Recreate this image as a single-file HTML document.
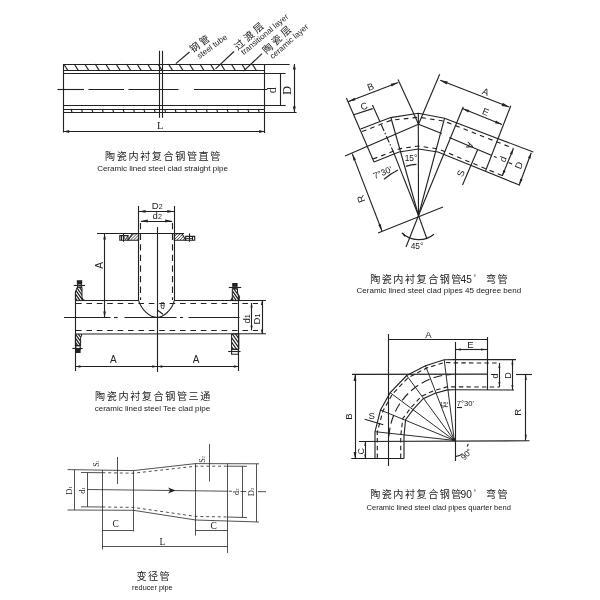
<!DOCTYPE html>
<html><head><meta charset="utf-8"><title>Ceramic lined steel clad pipes</title>
<style>
html,body{margin:0;padding:0;background:#fff;}
body{width:600px;height:600px;overflow:hidden;font-family:"Liberation Sans",sans-serif;}
svg{display:block;filter:blur(0.3px);}
svg text{fill:#222;stroke:none;}
svg text.sn{font-family:"Liberation Sans","Noto Sans CJK SC",sans-serif;}
svg text.sf{font-family:"Liberation Serif","Noto Serif CJK SC",serif;}
</style></head><body>
<svg width="600" height="600" viewBox="0 0 600 600" fill="none" stroke="#222" stroke-width="1.12">
<rect width="600" height="600" fill="#fff" stroke="none"/>
<path d="M63.6 64.5L289.6 64.5"/>
<path d="M63.6 70.5L264.6 70.5"/>
<path d="M63.6 73.5L285.6 73.5"/>
<path d="M63.6 105.5L285.6 105.5"/>
<path d="M63.6 109.5L264.6 109.5"/>
<path d="M63.6 112.5L296.6 112.5"/>
<path d="M63.5 64L63.5 132.5"/>
<path d="M264.5 64L264.5 133"/>
<path d="M63.75 64L67.95 70.6"/>
<path d="M74.22 64L78.42 70.6"/>
<path d="M84.69 64L88.89 70.6"/>
<path d="M95.16 64L99.36 70.6"/>
<path d="M105.63 64L109.83 70.6"/>
<path d="M116.1 64L120.3 70.6"/>
<path d="M126.57 64L130.77 70.6"/>
<path d="M137.04 64L141.24 70.6"/>
<path d="M147.51 64L151.71 70.6"/>
<path d="M157.98 64L162.18 70.6"/>
<path d="M168.45 64L172.65 70.6"/>
<path d="M178.92 64L183.12 70.6"/>
<path d="M189.39 64L193.59 70.6"/>
<path d="M199.86 64L204.06 70.6"/>
<path d="M210.33 64L214.53 70.6"/>
<path d="M220.8 64L225 70.6"/>
<path d="M231.27 64L235.47 70.6"/>
<path d="M241.74 64L245.94 70.6"/>
<path d="M252.21 64L256.41 70.6"/>
<path d="M71 109L72.2 112.9"/>
<path d="M81.4 109L82.6 112.9"/>
<path d="M91.8 109L93 112.9"/>
<path d="M102.2 109L103.4 112.9"/>
<path d="M112.6 109L113.8 112.9"/>
<path d="M123 109L124.2 112.9"/>
<path d="M133.4 109L134.6 112.9"/>
<path d="M143.8 109L145 112.9"/>
<path d="M154.2 109L155.4 112.9"/>
<path d="M164.6 109L165.8 112.9"/>
<path d="M175 109L176.2 112.9"/>
<path d="M185.4 109L186.6 112.9"/>
<path d="M195.8 109L197 112.9"/>
<path d="M206.2 109L207.4 112.9"/>
<path d="M216.6 109L217.8 112.9"/>
<path d="M227 109L228.2 112.9"/>
<path d="M237.4 109L238.6 112.9"/>
<path d="M247.8 109L249 112.9"/>
<path d="M258.2 109L259.4 112.9"/>
<path d="M57.5 89.5L84 89.5"/>
<path d="M88.5 89.5L124 89.5"/>
<path d="M128.5 89.5L178.5 89.5"/>
<path d="M194 89.5L267 89.5"/>
<path d="M159.5 50.8L159.5 117.8"/>
<path d="M162.5 50.8L162.5 117.8"/>
<path d="M63.6 131.5L264.6 131.5"/>
<path d="M264.6 131.4L259.1 132.9L259.1 129.9Z" fill="#222" stroke="none"/>
<path d="M63.6 131.4L69.1 129.9L69.1 132.9Z" fill="#222" stroke="none"/>
<text class="sf" x="160.3" y="129" font-size="10.5" text-anchor="middle">L</text>
<path d="M280.5 73L280.5 105.5"/>
<path d="M294.5 64L294.5 112.1"/>
<path d="M294.3 112.1L292.8 106.6L295.8 106.6Z" fill="#222" stroke="none"/>
<path d="M294.3 64L295.8 69.5L292.8 69.5Z" fill="#222" stroke="none"/>
<text class="sf" transform="translate(276.4 90.3) rotate(-90)" font-size="12" text-anchor="middle">d</text>
<text class="sf" transform="translate(290.6 90.3) rotate(-90)" font-size="12" text-anchor="middle">D</text>
<path d="M175.8 63.6L189.5 52"/>
<path d="M215.5 68.8L234 51.5"/>
<path d="M243.5 71.2L262 53.6"/>
<text class="sn" transform="translate(192.65 52.97) rotate(-35.26)" font-size="9.8" letter-spacing="2.32">钢管</text>
<text class="sn" transform="translate(199.4 58.9) rotate(-36)" font-size="8.1">steel tube</text>
<text class="sn" transform="translate(237.99 50.86) rotate(-41.67)" font-size="10" letter-spacing="2.78">过渡层</text>
<text class="sn" transform="translate(243.7 55.3) rotate(-39.8)" font-size="8.1">transitional layer</text>
<text class="sn" transform="translate(266.41 54.38) rotate(-42.74)" font-size="10" letter-spacing="2.53">陶瓷层</text>
<text class="sn" transform="translate(272.8 59.3) rotate(-41.3)" font-size="8.1">ceramic layer</text>
<text class="sn" x="105.1" y="159.9" font-size="10.1" letter-spacing="1.59">陶瓷内衬复合钢管直管</text>
<text class="sn" x="162.5" y="170.8" font-size="8" text-anchor="middle">Ceramic lined steel clad straight pipe</text>
<path d="M138.5 206L138.5 300.6"/>
<path d="M174.5 206L174.5 300.6"/>
<path d="M140.5 223L140.5 300" stroke-dasharray="6.3 4.3"/>
<path d="M172.5 223L172.5 300" stroke-dasharray="6.3 4.3"/>
<path d="M157.5 227L157.5 372"/>
<path d="M138.6 211.5L174.3 211.5"/>
<path d="M174.3 211.4L167.3 212.8L167.3 210Z" fill="#222" stroke="none"/>
<path d="M138.6 211.4L145.6 210L145.6 212.8Z" fill="#222" stroke="none"/>
<path d="M140.8 221.5L172.2 221.5"/>
<path d="M172.2 221L165.2 222.4L165.2 219.6Z" fill="#222" stroke="none"/>
<path d="M140.8 221L147.8 219.6L147.8 222.4Z" fill="#222" stroke="none"/>
<text class="sn" x="151.79" y="208.6" font-size="9.5">D<tspan font-size="7.1">2</tspan></text>
<text class="sn" x="152.58" y="219.2" font-size="9.5">d<tspan font-size="7.1">2</tspan></text>
<path d="M97 233.5L184 233.5"/>
<path d="M132.5 233.6L138.6 233.6L138.6 240.2L128 240.2Z"/>
<clipPath id="c88"><path d="M132.5 233.6L138.6 233.6L138.6 240.2L128 240.2Z"/></clipPath>
<path clip-path="url(#c88)" d="M121.4 240.2L128 233.6M124.4 240.2L131 233.6M127.4 240.2L134 233.6M130.4 240.2L137 233.6M133.4 240.2L140 233.6M136.4 240.2L143 233.6M139.4 240.2L146 233.6M142.4 240.2L149 233.6" stroke-width="0.8"/>
<path d="M174.3 233.6L182 233.6L185.7 240.2L174.3 240.2Z"/>
<clipPath id="c91"><path d="M174.3 233.6L182 233.6L185.7 240.2L174.3 240.2Z"/></clipPath>
<path clip-path="url(#c91)" d="M167.7 240.2L174.3 233.6M170.7 240.2L177.3 233.6M173.7 240.2L180.3 233.6M176.7 240.2L183.3 233.6M179.7 240.2L186.3 233.6M182.7 240.2L189.3 233.6M185.7 240.2L192.3 233.6M188.7 240.2L195.3 233.6M191.7 240.2L198.3 233.6" stroke-width="0.8"/>
<path d="M119.8 235.6L128 235.6L128 240.2L119.8 240.2Z"/>
<path d="M123.5 233.4L123.5 241.8"/>
<path d="M121.5 235.6L121.5 240.2"/>
<path d="M123.4 235.8L125.6 239.8L127.8 235.8" stroke-width="0.8"/>
<path d="M185.7 236.4L194.7 236.4L194.7 240.2L185.7 240.2Z"/>
<path d="M189.5 233.4L189.5 241.8"/>
<path d="M192.5 236.4L192.5 240.2"/>
<path d="M186 238.5L192.6 238.5" stroke-width="0.8"/>
<path d="M83 300.5L138.6 300.5"/>
<path d="M174.3 300.5L266 300.5"/>
<path d="M82.6 334L266 333.7"/>
<path d="M75.5 291.5L75.5 371"/>
<path d="M238.5 296L238.5 371"/>
<path d="M76 303.5L258 303.5" stroke-dasharray="5.6 4.8"/>
<path d="M76 330.5L258 330.5" stroke-dasharray="5.6 4.8"/>
<path d="M64 317.5L110.5 317.5"/>
<path d="M114 317.5L117.5 317.5"/>
<path d="M124.5 317.5L176.5 317.5"/>
<path d="M180 317.5L183 317.5"/>
<path d="M188.5 317.5L239.5 317.5"/>
<path d="M138.6 300.6C141.6 309.6 149.3 317.4 157.3 317.4C162.8 317.4 171.8 310.6 174.3 300.6"/>
<path d="M157.3 310L163 314.2"/>
<text class="sn" x="162.6" y="308.6" font-size="8.5" text-anchor="middle">θ</text>
<path d="M77.2 287.2L82 287.2L82 298L83.2 300.6L75.4 300.6L75.4 292Z" stroke-width="1"/>
<clipPath id="c117"><path d="M77.2 287.2L82 287.2L82 298L83.2 300.6L75.4 300.6L75.4 292Z"/></clipPath>
<path clip-path="url(#c117)" d="M62 287.2L71.38 300.6M64.9 287.2L74.28 300.6M67.8 287.2L77.18 300.6M70.7 287.2L80.08 300.6M73.6 287.2L82.98 300.6M76.5 287.2L85.88 300.6M79.4 287.2L88.78 300.6M82.3 287.2L91.68 300.6M85.2 287.2L94.58 300.6M88.1 287.2L97.48 300.6M91 287.2L100.38 300.6M93.9 287.2L103.28 300.6" stroke-width="1.25"/>
<path d="M82 297.6Q82.4 300.2 85.2 300.6"/>
<path d="M76.8 280.2H82.2V283.9H76.8Z" fill="#222" stroke="none"/>
<path d="M77.6 283.9L81.4 283.9L81.4 287.2L77.6 287.2Z"/>
<path d="M73.8 285.5L85 285.5"/>
<path d="M75.4 334L82.2 334L80.6 337.8L80.6 345.6L75.4 345.6Z" stroke-width="1"/>
<clipPath id="c124"><path d="M75.4 334L82.2 334L80.6 337.8L80.6 345.6L75.4 345.6Z"/></clipPath>
<path clip-path="url(#c124)" d="M63.8 334L71.92 345.6M66.7 334L74.82 345.6M69.6 334L77.72 345.6M72.5 334L80.62 345.6M75.4 334L83.52 345.6M78.3 334L86.42 345.6M81.2 334L89.32 345.6M84.1 334L92.22 345.6M87 334L95.12 345.6M89.9 334L98.02 345.6M92.8 334L100.92 345.6" stroke-width="1.25"/>
<path d="M75.8 345.6L80.2 345.6L80.2 349.4L75.8 349.4Z"/>
<path d="M72.4 348.5L82.6 348.5"/>
<path d="M75.7 349.4H80.6V353H75.7Z" fill="#222" stroke="none"/>
<path d="M232.3 288.8L237.5 288.8L237.5 293L239.3 296L239.3 300.6L231.2 300.6L232.3 298Z" stroke-width="1"/>
<clipPath id="c130"><path d="M232.3 288.8L237.5 288.8L237.5 293L239.3 296L239.3 300.6L231.2 300.6L232.3 298Z"/></clipPath>
<path clip-path="url(#c130)" d="M219.4 288.8L227.66 300.6M222.3 288.8L230.56 300.6M225.2 288.8L233.46 300.6M228.1 288.8L236.36 300.6M231 288.8L239.26 300.6M233.9 288.8L242.16 300.6M236.8 288.8L245.06 300.6M239.7 288.8L247.96 300.6M242.6 288.8L250.86 300.6M245.5 288.8L253.76 300.6M248.4 288.8L256.66 300.6" stroke-width="1.25"/>
<path d="M232.3 297.6Q232 300.2 229.6 300.6"/>
<path d="M232.2 283H237.6V286.3H232.2Z" fill="#222" stroke="none"/>
<path d="M233 286.3L236.8 286.3L236.8 288.8L233 288.8Z"/>
<path d="M228.8 287.5L241.2 287.5"/>
<path d="M231.6 334L238.8 334L238.8 349.3L231.6 349.3Z" stroke-width="1"/>
<clipPath id="c137"><path d="M231.6 334L238.8 334L238.8 349.3L231.6 349.3Z"/></clipPath>
<path clip-path="url(#c137)" d="M216.3 334L227.01 349.3M219.5 334L230.21 349.3M222.7 334L233.41 349.3M225.9 334L236.61 349.3M229.1 334L239.81 349.3M232.3 334L243.01 349.3M235.5 334L246.21 349.3M238.7 334L249.41 349.3M241.9 334L252.61 349.3M245.1 334L255.81 349.3M248.3 334L259.01 349.3M251.5 334L262.21 349.3" stroke-width="1.2"/>
<path d="M231.6 349.3L238.4 349.3L238.4 354.2L231.6 354.2Z"/>
<path d="M228.2 351.5L240.5 351.5"/>
<path d="M104.5 233.6L104.5 317.4"/>
<path d="M104.6 317.4L103.3 311.4L105.9 311.4Z" fill="#222" stroke="none"/>
<path d="M104.6 233.6L105.9 239.6L103.3 239.6Z" fill="#222" stroke="none"/>
<text class="sn" transform="translate(102.6 265.5) rotate(-90)" font-size="10" text-anchor="middle">A</text>
<path d="M75.4 366.5L157.3 366.5"/>
<path d="M157.3 366.5L152.3 367.7L152.3 365.3Z" fill="#222" stroke="none"/>
<path d="M75.4 366.5L80.4 365.3L80.4 367.7Z" fill="#222" stroke="none"/>
<path d="M157.3 366.5L238.8 366.5"/>
<path d="M238.8 366.5L233.8 367.7L233.8 365.3Z" fill="#222" stroke="none"/>
<path d="M157.3 366.5L162.3 365.3L162.3 367.7Z" fill="#222" stroke="none"/>
<text class="sn" x="113.4" y="362.6" font-size="10" text-anchor="middle">A</text>
<text class="sn" x="196.2" y="362.6" font-size="10" text-anchor="middle">A</text>
<path d="M251.5 303L251.5 330.3"/>
<path d="M251.6 330.3L250.5 325.8L252.7 325.8Z" fill="#222" stroke="none"/>
<path d="M251.6 303L252.7 307.5L250.5 307.5Z" fill="#222" stroke="none"/>
<path d="M262.5 300.6L262.5 334"/>
<path d="M262 334L260.9 329.5L263.1 329.5Z" fill="#222" stroke="none"/>
<path d="M262 300.6L263.1 305.1L260.9 305.1Z" fill="#222" stroke="none"/>
<text class="sn" transform="translate(250 319) rotate(-90)" x="-4.62" font-size="9.5">d<tspan font-size="7.1">1</tspan></text>
<text class="sn" transform="translate(260.2 319) rotate(-90)" x="-5.41" font-size="9.5">D<tspan font-size="7.1">1</tspan></text>
<text class="sn" x="95.1" y="400.2" font-size="10.1" letter-spacing="1.59">陶瓷内衬复合钢管三通</text>
<text class="sn" x="152.5" y="411.2" font-size="8" text-anchor="middle">ceramic lined steel Tee clad pipe</text>
<path d="M67.6 469.6L133.4 470.6L195.6 463.6L259 463.8" stroke-width="0.78"/>
<path d="M67.6 510L133.4 510.3L195.6 520L259 522" stroke-width="0.78"/>
<path d="M81 472.5L102.4 472.7" stroke-width="0.78"/>
<path d="M102.4 472.7L133.4 473.2L195.6 466.2L227.6 466.2" stroke-dasharray="3 2.8" stroke-width="0.78"/>
<path d="M227.6 466.2L247 466.3" stroke-width="0.78"/>
<path d="M81 506.8L102.4 507" stroke-width="0.78"/>
<path d="M102.4 507L133.4 507.4L195.6 516.4L227.6 517" stroke-dasharray="3 2.8" stroke-width="0.78"/>
<path d="M227.6 517L247 517.6" stroke-width="0.78"/>
<path d="M102.5 470L102.5 549.5" stroke-width="0.78"/>
<path d="M133.5 470.6L133.5 531.5" stroke-width="0.78"/>
<path d="M195.5 463.6L195.5 535.6" stroke-width="0.78"/>
<path d="M227.5 463.6L227.5 553" stroke-width="0.78"/>
<path d="M87.4 489.5L227.6 491.2" stroke-width="0.78"/>
<path d="M228.6 491.2L232 491.3" stroke-width="0.78"/>
<path d="M240.6 491.5L246.2 491.5" stroke-width="0.78"/>
<path d="M258 491.6L266 491.7" stroke-width="0.78"/>
<path d="M175.6 490.6L168 487.6L170.2 490.6L168 493.6Z" fill="#222" stroke="none"/>
<path d="M74.5 469.7L74.5 510" stroke-width="0.78"/>
<path d="M87.5 472.6L87.5 506.9" stroke-width="0.78"/>
<path d="M242.5 466.2L242.5 517.5" stroke-width="0.78"/>
<path d="M256.5 463.8L256.5 521.9" stroke-width="0.78"/>
<path d="M102.4 530.5L133.4 530.5" stroke-width="0.78"/>
<path d="M195.6 530.5L227.6 530.5" stroke-width="0.78"/>
<path d="M102.4 546.5L227.6 546.5" stroke-width="0.78"/>
<path d="M117.5 457L117.5 484" stroke-width="0.78"/>
<path d="M209.5 444L209.5 481.6" stroke-width="0.78"/>
<text class="sf" transform="translate(71.6 490.5) rotate(-90)" x="-4.29" font-size="8.6">D<tspan font-size="4.7">1</tspan></text>
<text class="sf" transform="translate(85 490.5) rotate(-90)" x="-3.33" font-size="8.6">d<tspan font-size="4.7">1</tspan></text>
<text class="sf" transform="translate(99.2 463.5) rotate(-90)" x="-3.32" font-size="8">S<tspan font-size="4.4">1</tspan></text>
<text class="sf" transform="translate(205 459.5) rotate(-90)" x="-3.32" font-size="8">S<tspan font-size="4.4">2</tspan></text>
<text class="sf" transform="translate(238.8 491.8) rotate(-90)" x="-3.33" font-size="8.6">d<tspan font-size="4.7">2</tspan></text>
<text class="sf" transform="translate(253.6 491.9) rotate(-90)" x="-4.29" font-size="8.6">D<tspan font-size="4.7">2</tspan></text>
<text class="sf" x="115.6" y="526.8" font-size="9.5" text-anchor="middle">C</text>
<text class="sf" x="213.6" y="529.4" font-size="9.5" text-anchor="middle">C</text>
<text class="sf" x="162.3" y="545" font-size="9.5" text-anchor="middle">L</text>
<text class="sn" x="136.6" y="580" font-size="10.1" letter-spacing="1.35">变径管</text>
<text class="sn" x="152.4" y="590" font-size="7.3" text-anchor="middle">reducer pipe</text>
<path d="M375 458.4L375 431.7L380.5 410L390.2 392.7L406.7 375.5L425.5 365.7L444.2 359.8L455 359.5L516 359.6"/>
<path d="M404 458.4L404 436L405.6 419.7L413.5 409.2L423.2 398.7L435.2 393.3L447.4 389.9L455 389.8L514 390"/>
<path d="M375.2 431.7L454.3 440.4" stroke-width="0.95"/>
<path d="M380.5 410L454.3 440.4" stroke-width="0.95"/>
<path d="M390.2 392.7L454.3 440.4" stroke-width="0.95"/>
<path d="M406.7 375.5L454.3 440.4" stroke-width="0.95"/>
<path d="M425.5 365.7L454.3 440.4" stroke-width="0.95"/>
<path d="M444.2 359.8L454.3 440.4" stroke-width="0.95"/>
<circle cx="453.7" cy="439.6" r="1.6" fill="#222" stroke="none"/>
<path d="M377.3 458L377.3 432L382.9 410.99L392.29 394.25L408.24 377.6L426.44 368.13L444.52 362.38L455 362.9L499.5 363" stroke-dasharray="4.5 3.2"/>
<path d="M400.7 458L400.7 436L402.84 418.53L411.12 407.38L421.41 396.3L434.07 390.52L446.99 386.93L455 386.9L499.5 387" stroke-dasharray="4.5 3.2"/>
<path d="M388.9 436.4A65.4 65.9 0 0 1 451.3 374.5" stroke-dasharray="9 4"/>
<path d="M388.5 334L388.5 466"/>
<path d="M352 374.4L487 374.1"/>
<path d="M516 374.5L532 374.5"/>
<path d="M455.5 342L455.5 461"/>
<path d="M359 441.5L529.5 440.8"/>
<path d="M351.3 458.5L404 458.5"/>
<path d="M487.5 337L487.5 390"/>
<path d="M388.3 339.5L487 339.5"/>
<path d="M455 349.5L487 349.5"/>
<path d="M487 349.4L481 350.4L481 348.4Z" fill="#222" stroke="none"/>
<path d="M455 349.4L461 348.4L461 350.4Z" fill="#222" stroke="none"/>
<path d="M355.5 374.4L355.5 458.4"/>
<path d="M355 458.4L353.6 451.9L356.4 451.9Z" fill="#222" stroke="none"/>
<path d="M355 374.4L356.4 380.9L353.6 380.9Z" fill="#222" stroke="none"/>
<path d="M365.5 441.7L365.5 458.4"/>
<path d="M365.2 458.4L364.2 454.4L366.2 454.4Z" fill="#222" stroke="none"/>
<path d="M365.2 441.7L366.2 445.7L364.2 445.7Z" fill="#222" stroke="none"/>
<path d="M499.5 363L499.5 387"/>
<path d="M499.4 387L498.4 382L500.4 382Z" fill="#222" stroke="none"/>
<path d="M499.4 363L500.4 368L498.4 368Z" fill="#222" stroke="none"/>
<path d="M512.5 359.6L512.5 390"/>
<path d="M512.4 390L511.4 385L513.4 385Z" fill="#222" stroke="none"/>
<path d="M512.4 359.6L513.4 364.6L511.4 364.6Z" fill="#222" stroke="none"/>
<path d="M525.5 374.1L525.5 440.8"/>
<path d="M525.8 440.8L524.8 434.8L526.8 434.8Z" fill="#222" stroke="none"/>
<path d="M525.8 374.1L526.8 380.1L524.8 380.1Z" fill="#222" stroke="none"/>
<path d="M364.7 419.3L383.3 424.8"/>
<text class="sn" x="371.7" y="418.6" font-size="9.5" text-anchor="middle">S</text>
<text class="sn" x="428.5" y="338" font-size="9.5" text-anchor="middle">A</text>
<text class="sn" x="470.5" y="347.6" font-size="9.5" text-anchor="middle">E</text>
<text class="sn" transform="translate(352 416.7) rotate(-90)" font-size="9.5" text-anchor="middle">B</text>
<text class="sn" transform="translate(363.6 451.2) rotate(-90)" font-size="9" text-anchor="middle">C</text>
<text class="sn" transform="translate(497.6 376) rotate(-90)" font-size="9" text-anchor="middle">d</text>
<text class="sn" transform="translate(511.4 375.6) rotate(-90)" font-size="9" text-anchor="middle">D</text>
<text class="sn" transform="translate(520.6 412.4) rotate(-90)" font-size="9.5" text-anchor="middle">R</text>
<text class="sn" x="456.8" y="405.6" font-size="7.6">7°30'</text>
<path d="M457 407.5L462 407.5"/>
<text class="sn" x="444.3" y="406.2" font-size="5.8" text-anchor="middle">15°</text>
<path d="M441.3 407.3Q444.5 406.3 447.8 406.6" stroke-width="0.8"/>
<text class="sn" transform="translate(468.5 456) rotate(-48)" font-size="8" text-anchor="middle">90°</text>
<path d="M455.2 456.6Q459.5 456.3 462.6 453.6"/>
<path d="M467.2 446.5L468.2 444"/>
<text class="sn" x="370.2" y="498.3" font-size="10.1" letter-spacing="1.5">陶瓷内衬复合钢管</text>
<text class="sn" x="460.6" y="498.1" font-size="10.2">90</text>
<text class="sn" x="473.4" y="495.3" font-size="6.5">°</text>
<text class="sn" x="486.1" y="498.3" font-size="10.1" letter-spacing="1.2">弯管</text>
<text class="sn" x="438.7" y="509.6" font-size="7.5" text-anchor="middle">Ceramic lined steel clad pipes quarter bend</text>
<path d="M346.4 98L374 162"/>
<path d="M348 101.7L398.2 82.4"/>
<path d="M398.2 82.4L391.7 86.4L390.7 83.78Z" fill="#222" stroke="none"/>
<path d="M348 101.7L354.5 97.7L355.5 100.32Z" fill="#222" stroke="none"/>
<path d="M398 79.6L418.6 124.2"/>
<path d="M353.7 114.8L372.7 108.6"/>
<path d="M372.4 105L379.9 121.6"/>
<path d="M381.2 124.6L393.2 151.4" stroke-dasharray="7 2 1.5 2"/>
<path d="M393.2 151.4L418.5 215.5"/>
<path d="M360.6 128.9L390.6 117.6L418.3 113.3L444.5 118.3L533.3 152"/>
<path d="M362 131.6L391.4 120.2L418.5 117.2L443.6 121L513.5 148.4" stroke-dasharray="4.6 4.2"/>
<path d="M345 156L418.5 124.2"/>
<path d="M418.5 124.2L441.7 133.4"/>
<path d="M449.2 137.4L491.3 155.3"/>
<path d="M494 156.4L496.7 157.5"/>
<path d="M508.6 162.6L512 164"/>
<path d="M374 162L399 152L418.5 149L438 152L520 185.3"/>
<path d="M373 159L400.2 148.6L418.5 146L438.6 149L505 176.8" stroke-dasharray="4.6 4.2"/>
<path d="M391 118L418.5 215.5"/>
<path d="M418.3 113.3L418.5 215.5"/>
<path d="M444.5 118.3L418.5 215.5"/>
<path d="M463.3 106.7L418.5 215.5"/>
<path d="M418.5 215.5L406 247"/>
<path d="M418.5 215.5L426.6 238"/>
<path d="M510.8 105.8L485.5 171"/>
<path d="M439.7 74.2L418.5 124.2"/>
<path d="M440.2 80.3L509.2 107.1"/>
<path d="M509.2 107.1L501.59 105.97L502.82 102.8Z" fill="#222" stroke="none"/>
<path d="M440.2 80.3L447.81 81.43L446.58 84.6Z" fill="#222" stroke="none"/>
<path d="M462.3 108.6L502 124.5"/>
<path d="M502 124.5L494.98 123.2L496.02 120.6Z" fill="#222" stroke="none"/>
<path d="M462.3 108.6L469.32 109.9L468.28 112.5Z" fill="#222" stroke="none"/>
<path d="M513.3 148.7L502.2 176"/>
<path d="M502.2 176L503.26 169.95L505.66 170.93Z" fill="#222" stroke="none"/>
<path d="M513.3 148.7L512.24 154.75L509.84 153.77Z" fill="#222" stroke="none"/>
<path d="M531.3 152.7L519.3 184.7"/>
<path d="M519.3 184.7L520.19 178.63L522.62 179.54Z" fill="#222" stroke="none"/>
<path d="M531.3 152.7L530.41 158.77L527.98 157.86Z" fill="#222" stroke="none"/>
<path d="M477.5 150L462.5 185"/>
<path d="M352.2 153.6L382 231"/>
<path d="M382 231L378.27 224.93L380.7 224Z" fill="#222" stroke="none"/>
<path d="M352.2 153.6L355.93 159.67L353.5 160.6Z" fill="#222" stroke="none"/>
<path d="M378 233L443 207"/>
<path d="M402 233A24.2 24.2 0 0 0 434 234.2"/>
<path d="M401.6 232.6L405.84 235.43L404.43 236.84Z" fill="#222" stroke="none"/>
<path d="M406 166.4Q411 164.6 416.4 164.4"/>
<path d="M384 179.2Q391 173.4 398 170"/>
<text class="sn" transform="translate(371.62 89.88) rotate(-21)" font-size="9.5" text-anchor="middle">B</text>
<text class="sn" transform="translate(365.22 109.18) rotate(-21)" font-size="9.5" text-anchor="middle">C</text>
<text class="sn" transform="translate(484.58 94.88) rotate(21)" font-size="9.5" text-anchor="middle">A</text>
<text class="sn" transform="translate(484.58 114.88) rotate(21)" font-size="9.5" text-anchor="middle">E</text>
<text class="sn" transform="translate(466.82 144.58) rotate(111)" font-size="9.5" text-anchor="middle">A</text>
<text class="sn" transform="translate(506.04 160.24) rotate(-69)" font-size="9.5" text-anchor="middle">d</text>
<text class="sn" transform="translate(521.88 166.42) rotate(-69)" font-size="9.5" text-anchor="middle">D</text>
<text class="sn" transform="translate(463.98 174.52) rotate(-69)" font-size="9.5" text-anchor="middle">S</text>
<text class="sn" transform="translate(364.28 197.74) rotate(-111)" font-size="9.8" text-anchor="middle">R</text>
<text class="sn" x="411" y="161.01" font-size="8.4" text-anchor="middle">15°</text>
<text class="sn" transform="translate(383.65 175.35) rotate(-22)" font-size="8.6" text-anchor="middle">7°30'</text>
<text class="sn" x="417" y="249.01" font-size="8.4" text-anchor="middle">45°</text>
<text class="sn" x="370.2" y="283.3" font-size="10.1" letter-spacing="1.5">陶瓷内衬复合钢管</text>
<text class="sn" x="460.6" y="283.1" font-size="10.2">45</text>
<text class="sn" x="473.4" y="280.3" font-size="6.5">°</text>
<text class="sn" x="486.1" y="283.3" font-size="10.1" letter-spacing="1.2">弯管</text>
<text class="sn" x="438.85" y="292.6" font-size="8" text-anchor="middle">Ceramic lined steel clad pipes 45 degree bend</text>
</svg>
</body></html>
